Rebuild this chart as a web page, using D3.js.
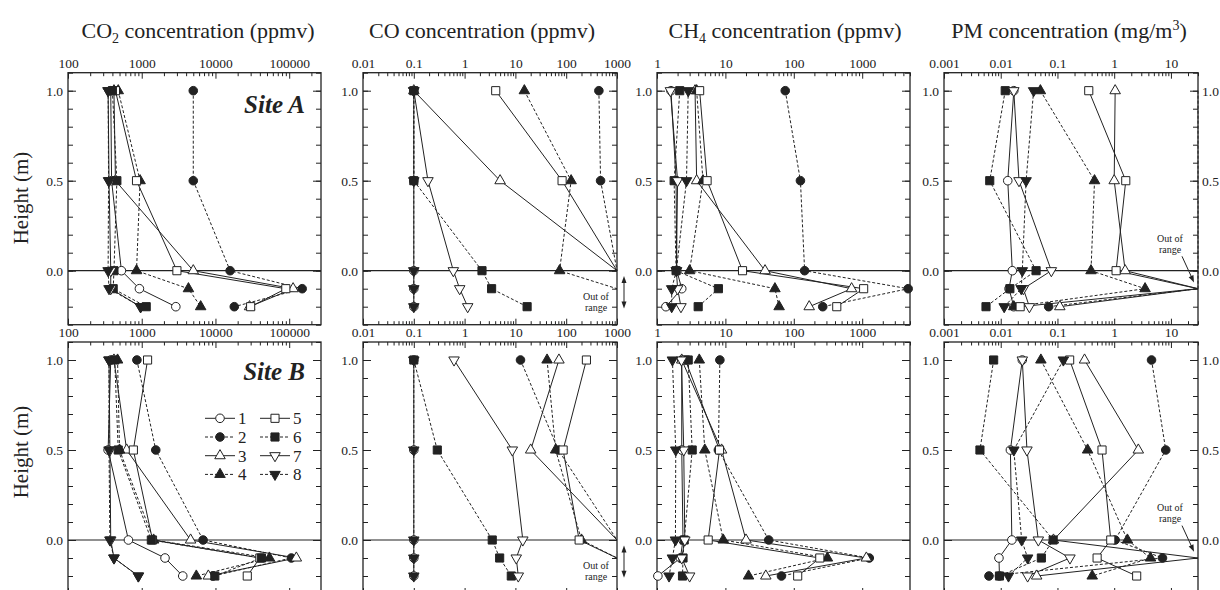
<!DOCTYPE html>
<html><head><meta charset="utf-8">
<script src="https://cdn.jsdelivr.net/npm/d3@7"></script>
<style>body{margin:0;background:#fff} svg{display:block}</style>
</head><body><svg id="c" width="1220" height="590"></svg>
<script>
// ---------------- DATA ----------------
const heights = [1.0, 0.5, 0.0, -0.1, -0.2];
const seriesLabels = ["1", "2", "3", "4", "5", "6", "7", "8"];
const OUT = "out"; // value beyond the right end of the axis

// CO2 (ppmv) — series 1..8, values at heights 1.0, 0.5, 0.0, -0.1, -0.2
const co2SiteA = [
  [380, 390, 530, 930, 2900],
  [5000, 5000, 15800, 150000, 18000],
  [420, 440, 5000, 113000, 29000],
  [480, 950, 850, 4300, 6300],
  [440, 850, 3000, 90000, 30000],
  [400, 460, 420, 410, 1150],
  [350, 360, 380, 380, 960],
  [350, 355, 350, 360, 970]
];
const co2SiteB = [
  [380, 350, 660, 2070, 3600],
  [860, 1550, 6800, 107000, 9300],
  [420, 625, 4600, 125000, 8000],
  [470, 500, 1450, 54000, 5500],
  [1200, 770, 1400, 40000, 27000],
  [430, 480, 1350, 42000, 9800],
  [360, 370, 380, 420, 900],
  [360, 360, 370, 420, 900]
];
// CO (ppmv)
const coSiteA = [
  [0.1, 0.1, 0.1, 0.1, 0.1],
  [440, 475, OUT, null, null],
  [0.1, 5.0, OUT, null, null],
  [15, 125, 74, OUT, null],
  [4.1, 83, OUT, null, null],
  [0.1, 0.1, 2.2, 3.4, 17],
  [0.1, 0.19, 0.6, 0.8, 1.15],
  [0.1, 0.1, 0.1, 0.1, 0.1]
];
const coSiteB = [
  [0.1, 0.1, 0.1, 0.1, 0.1],
  [12.6, 70, OUT, null, null],
  [72, 20, OUT, null, null],
  [42, 62, 200, OUT, null],
  [250, 87, 180, OUT, null],
  [0.1, 0.29, 3.5, 4.9, 8.3],
  [0.62, 8.7, 14, 10.4, 11.4],
  [0.1, 0.1, 0.1, 0.1, 0.1]
];
// CH4 (ppmv)
const ch4SiteA = [
  [1.6, 1.9, 1.95, 2.3, 1.35],
  [75, 125, 144, 4700, 265],
  [3.6, 3.8, 38, 700, 168],
  [3.8, 4.7, 3.0, 53, 61],
  [4.2, 5.4, 17.8, 1050, 425],
  [2.15, 1.78, 1.9, 7.9, 4.0],
  [1.57, 2.0, 1.92, 2.0, 2.24],
  [2.86, 2.7, 1.92, 1.64, 1.64]
];
const ch4SiteB = [
  [2.3, 2.3, 2.4, 2.2, 1.03],
  [8.3, 7.9, 43, 1270, 66],
  [2.3, 8.8, 20, 1150, 39],
  [4.15, 5.0, 9.3, 310, 21.8],
  [2.6, 8.2, 5.6, 240, 114],
  [2.86, 3.27, 2.5, 2.4, 2.36],
  [2.28, 2.46, 2.55, 2.3, 3.0],
  [1.68, 1.88, 1.86, 1.68, 1.5]
];
// PM (mg/m3)
const pmSiteA = [
  [0.017, 0.0133, 0.016, 0.014, 0.017],
  [OUT, OUT, OUT, OUT, 0.07],
  [1.04, 1.0, 1.56, OUT, 0.11],
  [0.050, 0.45, 0.39, 3.5, 0.017],
  [0.356, 1.6, 1.08, OUT, 0.022],
  [0.012, 0.0064, 0.042, 0.0145, 0.0055],
  [0.017, 0.021, 0.078, 0.025, 0.032],
  [0.038, 0.028, 0.024, 0.023, 0.0115]
];
const pmSiteB = [
  [0.024, 0.0148, 0.0157, 0.0093, 0.0095],
  [4.55, 8.1, 1.04, 7.1, 0.0062],
  [0.30, 2.66, 0.085, OUT, 0.043],
  [0.051, 0.34, 1.71, 4.37, 0.41],
  [0.164, 0.61, 0.87, 0.50, 2.49],
  [0.0075, 0.0043, 0.084, 0.052, 0.0095],
  [0.024, 0.029, 0.046, 0.166, 0.0298],
  [0.127, 0.017, 0.0234, 0.0298, 0.0137]
];

const co2Domain = [100, 270000];
const coDomain = [0.01, 1000];
const ch4Domain = [1, 5000];
const pmDomain = [0.001, 30];
const co2Ticks = [100, 1000, 10000, 100000];
const coTicks = [0.01, 0.1, 1, 10, 100, 1000];
const ch4Ticks = [1, 10, 100, 1000];
const pmTicks = [0.001, 0.01, 0.1, 1, 10];
const heightTicks = [0.0, 0.5, 1.0];
const heightDomain = [-0.3, 1.1];
const siteNames = ["Site A", "Site B"];

// ---------------- LAYOUT ----------------
const svg = d3.select("#c");
const ink = "#222";
const serif = "'Liberation Serif','Times New Roman',serif";

const cols = [
  {x0: 68, x1: 321, domain: co2Domain, ticks: co2Ticks, data: [co2SiteA, co2SiteB], title: ["CO", "2", " concentration (ppmv)"], tx: 198, oor: false},
  {x0: 363, x1: 617, domain: coDomain, ticks: coTicks, data: [coSiteA, coSiteB], title: ["CO concentration (ppmv)"], tx: 482, oor: "co"},
  {x0: 657, x1: 910, domain: ch4Domain, ticks: ch4Ticks, data: [ch4SiteA, ch4SiteB], title: ["CH", "4", " concentration (ppmv)"], tx: 785, oor: false},
  {x0: 944, x1: 1198, domain: pmDomain, ticks: pmTicks, data: [pmSiteA, pmSiteB], title: ["PM concentration (mg/m", "3", ")"], tx: 1069, oor: "pm", sup: true}
];
const rows = [{yTop: 72.7, yBot: 324.7}, {yTop: 342, yBot: 594}];

const markerType = [
  {shape: "circle", fill: false, dash: false},
  {shape: "circle", fill: true, dash: true},
  {shape: "up", fill: false, dash: false},
  {shape: "up", fill: true, dash: true},
  {shape: "square", fill: false, dash: false},
  {shape: "square", fill: true, dash: true},
  {shape: "down", fill: false, dash: false},
  {shape: "down", fill: true, dash: true}
];
function symbolPath(shape) {
  if (shape === "circle") return d3.symbol().type(d3.symbolCircle).size(58)();
  if (shape === "square") return d3.symbol().type(d3.symbolSquare).size(66)();
  return d3.symbol().type(d3.symbolTriangle).size(48)();
}
function drawMarker(g, i, x, y) {
  const m = markerType[i];
  g.append("path")
    .attr("d", symbolPath(m.shape))
    .attr("transform", `translate(${x},${y})` + (m.shape === "down" ? " rotate(180)" : ""))
    .attr("fill", m.fill ? ink : "#fff")
    .attr("stroke", ink).attr("stroke-width", 1);
}

// Titles
cols.forEach(c => {
  const t = svg.append("text").attr("x", c.tx).attr("y", 38)
    .attr("text-anchor", "middle").attr("font-family", serif).attr("font-size", 22).attr("fill", ink);
  if (c.title.length === 1) t.text(c.title[0]);
  else {
    t.append("tspan").text(c.title[0]);
    t.append("tspan").text(c.title[1]).attr("font-size", 14).attr("dy", c.sup ? -8 : 5);
    t.append("tspan").text(c.title[2]).attr("dy", c.sup ? 8 : -5);
  }
});

// Y titles
rows.forEach((r, ri) => {
  const cy = ri === 0 ? 198 : 452;
  svg.append("text").attr("transform", `translate(28,${cy}) rotate(-90)`)
    .attr("text-anchor", "middle").attr("font-family", serif).attr("font-size", 21).attr("fill", ink)
    .text("Height (m)");
});

function styleAxis(g, fs) {
  g.select(".domain").remove();
  g.selectAll(".tick line").attr("stroke", ink).attr("stroke-width", 1);
  g.selectAll(".tick text").attr("font-family", serif).attr("font-size", fs).attr("fill", ink);
}

const minorH = d3.range(-3, 12).map(v => v / 10);

cols.forEach((c, ci) => {
  const x = d3.scaleLog().domain(c.domain).range([c.x0, c.x1]);
  const minorX = x.ticks().filter(v => !c.ticks.includes(v));
  rows.forEach((r, ri) => {
    const y = d3.scaleLinear().domain(heightDomain).range([r.yBot, r.yTop]);
    const g = svg.append("g");
    // frame
    g.append("rect").attr("x", c.x0).attr("y", r.yTop).attr("width", c.x1 - c.x0).attr("height", r.yBot - r.yTop)
      .attr("fill", "none").attr("stroke", ink).attr("stroke-width", 1.3);
    // top axis
    g.append("g").attr("transform", `translate(0,${r.yTop})`)
      .call(d3.axisTop(x).tickValues(c.ticks).tickSize(-6).tickPadding(5).tickFormat(d => String(d)))
      .call(a => styleAxis(a, 13.5));
    g.append("g").attr("transform", `translate(0,${r.yTop})`)
      .call(d3.axisTop(x).tickValues(minorX).tickSize(-3.5).tickFormat(""))
      .call(a => styleAxis(a, 13.5));
    // bottom axis
    g.append("g").attr("transform", `translate(0,${r.yBot})`)
      .call(d3.axisBottom(x).tickValues(c.ticks).tickSize(-6).tickFormat(""))
      .call(a => styleAxis(a, 13.5));
    g.append("g").attr("transform", `translate(0,${r.yBot})`)
      .call(d3.axisBottom(x).tickValues(minorX).tickSize(-3.5).tickFormat(""))
      .call(a => styleAxis(a, 13.5));
    // left axis
    g.append("g").attr("transform", `translate(${c.x0},0)`)
      .call(d3.axisLeft(y).tickValues(heightTicks).tickSize(-8).tickPadding(5).tickFormat(d3.format(".1f")))
      .call(a => styleAxis(a, 13.5));
    g.append("g").attr("transform", `translate(${c.x0},0)`)
      .call(d3.axisLeft(y).tickValues(minorH).tickSize(-5).tickFormat(""))
      .call(a => styleAxis(a, 13.5));
    // right axis
    g.append("g").attr("transform", `translate(${c.x1},0)`)
      .call(d3.axisRight(y).tickValues(heightTicks).tickSize(-8).tickPadding(4)
        .tickFormat(ci === 3 ? d3.format(".1f") : ""))
      .call(a => styleAxis(a, 13.5));
    g.append("g").attr("transform", `translate(${c.x1},0)`)
      .call(d3.axisRight(y).tickValues(minorH).tickSize(-5).tickFormat(""))
      .call(a => styleAxis(a, 13.5));
    // ground line
    g.append("line").attr("x1", c.x0).attr("x2", c.x1).attr("y1", y(0)).attr("y2", y(0))
      .attr("stroke", ink).attr("stroke-width", 1.2);

    // series
    const data = c.data[ri];
    const pts = data.map(vals => vals.map((v, k) => v === null ? null :
      {x: v === OUT ? x(c.domain[1]) : x(v), y: y(heights[k]), out: v === OUT}).filter(p => p));
    const line = d3.line().x(p => p.x).y(p => p.y);
    pts.forEach((p, i) => {
      g.append("path").attr("d", line(p)).attr("fill", "none").attr("stroke", ink)
        .attr("stroke-width", 1).attr("stroke-dasharray", markerType[i].dash ? "3,2" : null);
    });
    pts.forEach((p, i) => p.forEach(q => { if (!q.out) drawMarker(g, i, q.x, q.y); }));

    // out of range annotation
    const note = (tx, ty1, ty2) => {
      g.append("text").attr("x", tx).attr("y", ty1).attr("text-anchor", "middle")
        .attr("font-family", serif).attr("font-size", 10).attr("fill", ink).text("Out of");
      g.append("text").attr("x", tx).attr("y", ty2).attr("text-anchor", "middle")
        .attr("font-family", serif).attr("font-size", 10).attr("fill", ink).text("range");
    };
    if (c.oor === "co") {
      note(c.x1 - 21, y(-0.15) + 2, y(-0.21) + 2);
      const ax = c.x1 + 7, ya = y(-0.03), yb = y(-0.21);
      g.append("line").attr("x1", ax).attr("x2", ax).attr("y1", ya + 5).attr("y2", yb - 5).attr("stroke", ink);
      g.append("path").attr("d", `M${ax},${ya} l-2.5,7 l5,0 Z`).attr("fill", ink);
      g.append("path").attr("d", `M${ax},${yb} l-2.5,-7 l5,0 Z`).attr("fill", ink);
    }
    if (c.oor === "pm") {
      note(c.x1 - 28, y(0.16), y(0.1));
      const x1 = c.x1 - 16, y1 = y(0.08), x2 = c.x1 - 4, y2 = y(-0.065);
      const ang = Math.atan2(y2 - y1, x2 - x1);
      g.append("line").attr("x1", x1).attr("y1", y1).attr("x2", x2 - 6 * Math.cos(ang)).attr("y2", y2 - 6 * Math.sin(ang)).attr("stroke", ink);
      g.append("path").attr("d", "M0,0 L-7,-2.6 L-7,2.6 Z")
        .attr("transform", `translate(${x2},${y2}) rotate(${ang * 180 / Math.PI})`).attr("fill", ink);
    }
    // site label
    if (ci === 0) {
      g.append("text").attr("x", c.x1 - 16).attr("y", ri === 0 ? 113 : 380)
        .attr("text-anchor", "end").attr("font-family", serif).attr("font-weight", "bold")
        .attr("font-style", "italic").attr("font-size", 25).attr("fill", ink).text(siteNames[ri]);
    }
  });
});

// Legend (inside CO2 Site B panel)
const legend = svg.append("g");
seriesLabels.forEach((lab, i) => {
  const lx = i < 4 ? 205 : 260;
  const ly = 418.3 + (i % 4) * 18.7;
  legend.append("line").attr("x1", lx).attr("x2", lx + 30).attr("y1", ly).attr("y2", ly)
    .attr("stroke", ink).attr("stroke-width", 1).attr("stroke-dasharray", markerType[i].dash ? "3,2" : null);
  drawMarker(legend, i, lx + 15, ly);
  legend.append("text").attr("x", lx + 33).attr("y", ly + 6).attr("font-family", serif)
    .attr("font-size", 17).attr("fill", ink).text(lab);
});
</script></body></html>
